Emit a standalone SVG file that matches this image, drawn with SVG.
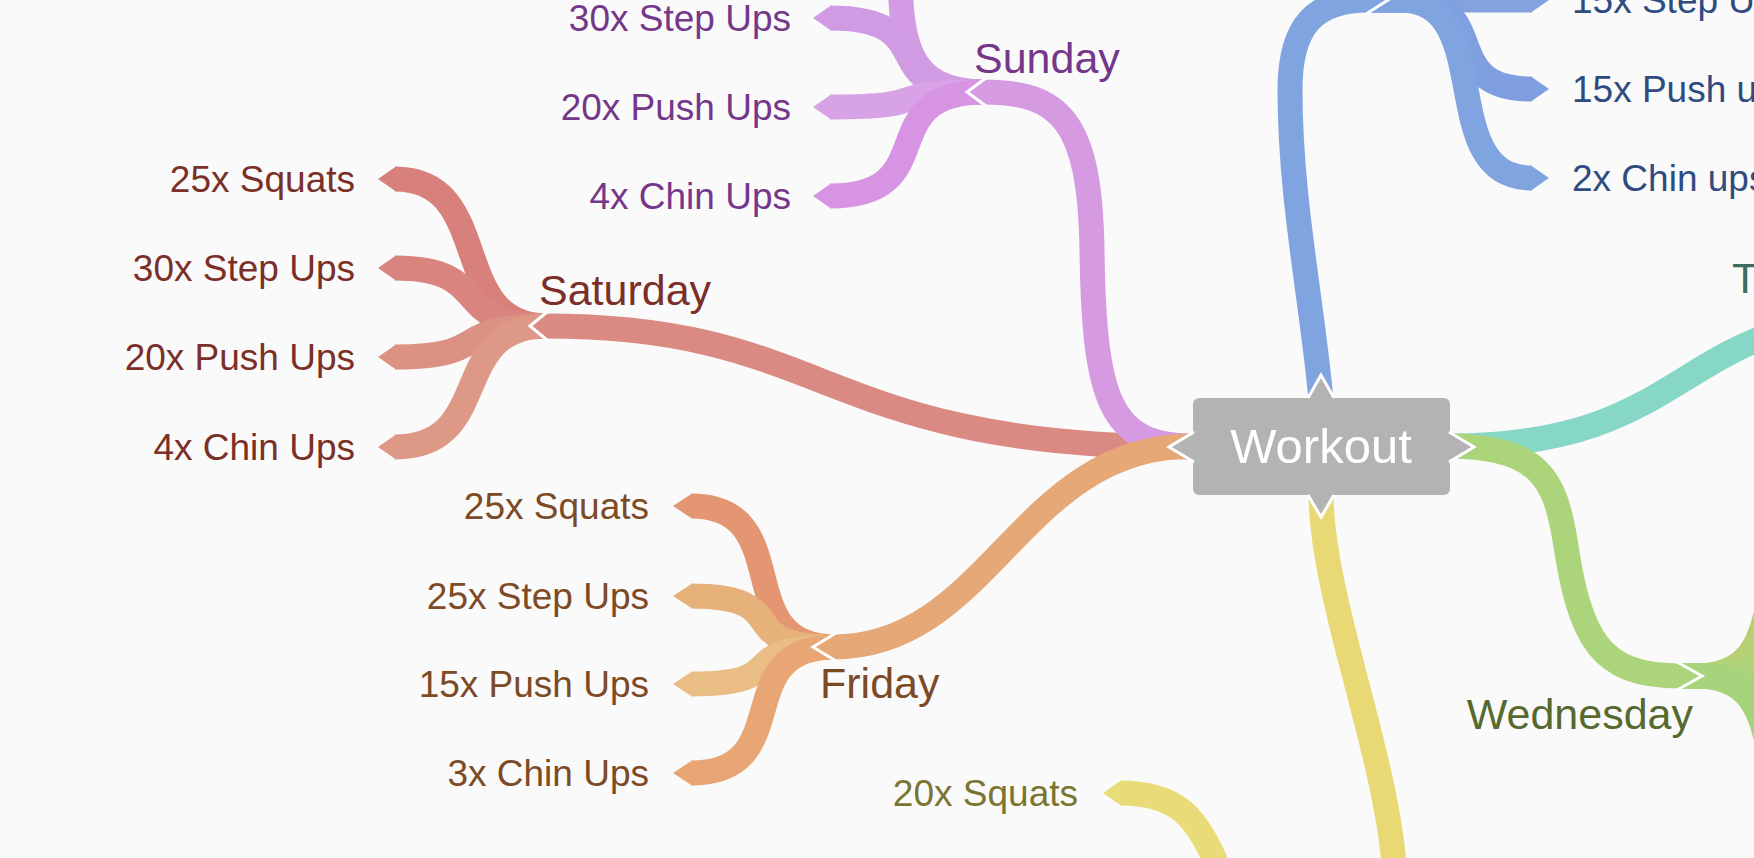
<svg xmlns="http://www.w3.org/2000/svg" width="1754" height="858" viewBox="0 0 1754 858">
<style>
.r{fill:none;stroke-width:25;stroke-linecap:butt}
.w{fill:none;stroke:#ffffff;stroke-width:3;stroke-linejoin:miter}
text{font-family:"Liberation Sans",Arial,Helvetica,sans-serif}
.leaf{font-size:37px}
.day{font-size:43px}
.sat{fill:#7a3028}.sun{fill:#74378a}.fri{fill:#7c4a25}.mon{fill:#2f4b80}.wed{fill:#56692f}.tue{fill:#3a6e5f}.thu{fill:#7a7530}
</style>
<rect x="0" y="0" width="1754" height="858" fill="#fafafa"/>
<g id="connectors">
  <!-- Saturday -->
  <path class="r" stroke="#da8a83" d="M545,326 C835,326 815,447 1192,447"/>
  <!-- Sunday -->
  <path class="r" stroke="#d69ae3" d="M983,92 C1060,92 1090,120 1092,250 C1094,400 1110,446 1192,446"/>
  <!-- Friday -->
  <path class="r" stroke="#e6a877" d="M833,647 C990,647 1020,446 1192,446"/>
  <!-- Monday (top, blue) -->
  <path class="r" stroke="#80a4e0" d="M1321,400 C1312,300 1290,200 1290,90 C1290,25 1315,0 1369,0"/>
  <!-- Tuesday -->
  <path class="r" stroke="#86d7c5" d="M1448,446 C1700,446 1670,314 1906,314"/>
  <!-- Wednesday -->
  <path class="r" stroke="#abd47b" d="M1448,446 C1540,446 1555,480 1565,540 C1580,640 1600,676 1680,676"/>
  <!-- Thursday (bottom, yellow) -->
  <path class="r" stroke="#e9d974" d="M1321,493 C1321,600 1390,760 1395,880"/>
  <path class="r" stroke="#e9dc78" d="M1120,793 C1175,793 1195,815 1215,860 L1225,885"/>
  <polygon fill="#e9dc78" points="1121,780.5 1103,793 1121,805.5"/>

  <!-- Saturday children -->
  <path class="r" stroke="#d8807b" d="M395,179 C496,179 446,326 547,326"/>
  <path class="r" stroke="#d9847e" d="M395,268 C496,268 446,326 547,326"/>
  <path class="r" stroke="#dc9282" d="M395,357 C496,357 446,326 547,326"/>
  <path class="r" stroke="#de9886" d="M395,447 C496,447 446,326 547,326"/>
  <polygon fill="#d8807b" points="396,166.5 378,179 396,191.5"/>
  <polygon fill="#d9847e" points="396,255.5 378,268 396,280.5"/>
  <polygon fill="#dc9282" points="396,344.5 378,357 396,369.5"/>
  <polygon fill="#de9886" points="396,434.5 378,447 396,459.5"/>
  <polygon fill="#da8a83" points="547,313.5 530,326 547,338.5"/>
  <polyline class="w" points="547,312 530,326 547,340"/>

  <!-- Sunday children -->
  <path class="r" stroke="#d39be3" d="M900,-40 C900,40 905,92 985,92"/>
  <path class="r" stroke="#d09be2" d="M830,18 C946,18 869,92 985,92"/>
  <path class="r" stroke="#d8a3e6" d="M830,107 C946,107 869,92 985,92"/>
  <path class="r" stroke="#d694e2" d="M830,196 C946,196 869,92 985,92"/>
  <polygon fill="#d09be2" points="831,5.5 813,18 831,30.5"/>
  <polygon fill="#d8a3e6" points="831,94.5 813,107 831,119.5"/>
  <polygon fill="#d694e2" points="831,183.5 813,196 831,208.5"/>
  <polygon fill="#d69ae3" points="986,79.5 967,92 986,104.5"/>
  <polyline class="w" points="986,78 967,92 986,106"/>

  <!-- Friday children -->
  <path class="r" stroke="#e49672" d="M691,506 C799,506 727,647 835,647"/>
  <path class="r" stroke="#e6b279" d="M691,596 C799,596 727,647 835,647"/>
  <path class="r" stroke="#e9bd84" d="M691,684 C799,684 727,647 835,647"/>
  <path class="r" stroke="#e7a674" d="M691,773 C799,773 727,647 835,647"/>
  <polygon fill="#e49672" points="692,493.5 673,506 692,518.5"/>
  <polygon fill="#e6b279" points="692,583.5 673,596 692,608.5"/>
  <polygon fill="#e9bd84" points="692,671.5 673,684 692,696.5"/>
  <polygon fill="#e7a674" points="692,760.5 673,773 692,785.5"/>
  <polygon fill="#e6a877" points="836,634.5 813,647 836,659.5"/>
  <polyline class="w" points="836,633 813,647 836,661"/>

  <!-- Monday children -->
  <path class="r" stroke="#84a2e0" d="M1367,0 L1532,0"/>
  <path class="r" stroke="#809fe0" d="M1367,0 L1400,0 C1499,0 1433,89 1532,89"/>
  <path class="r" stroke="#7fa4e0" d="M1367,0 L1400,0 C1499,0 1433,178 1532,178"/>
  <polygon fill="#84a2e0" points="1531,-12.5 1549,0 1531,12.5"/>
  <polygon fill="#809fe0" points="1531,76.5 1549,89 1531,101.5"/>
  <polygon fill="#7fa4e0" points="1531,165.5 1549,178 1531,190.5"/>
  <polygon fill="#80a4e0" points="1367,-12.5 1388,0 1367,12.5"/>
  <polyline class="w" points="1366,-14 1388,0 1366,14"/>

  <!-- Wednesday children -->
  <path class="r" stroke="#b6d073" d="M1678,676 L1695,676 C1804,676 1731,543 1840,543"/>
  <path class="r" stroke="#aed378" d="M1678,676 L1695,676 C1804,676 1731,632 1840,632"/>
  <path class="r" stroke="#a9d47b" d="M1678,676 L1695,676 C1804,676 1731,720 1840,720"/>
  <path class="r" stroke="#a6d47d" d="M1678,676 L1695,676 C1804,676 1731,809 1840,809"/>
  <polygon fill="#abd47b" points="1678,663.5 1702,676 1678,688.5"/>
  <polyline class="w" points="1677,662 1702,676 1677,690"/>
</g>

<g id="node-workout">
  <rect x="1193" y="398" width="257" height="97" rx="6" fill="#b3b3b3"/>
  <polygon fill="#b3b3b3" points="1195,433 1169,447 1195,461"/>
  <polygon fill="#b3b3b3" points="1448,433 1474,447 1448,461"/>
  <polygon fill="#b3b3b3" points="1308,400 1321,375 1334,400"/>
  <polygon fill="#b3b3b3" points="1308,493 1321,517 1334,493"/>
  <polyline class="w" points="1194,432 1169,447 1194,462"/>
  <polyline class="w" points="1449,432 1474,447 1449,462"/>
  <polyline class="w" points="1308,398 1321,375 1334,398"/>
  <polyline class="w" points="1308,495 1321,517 1334,495"/>
  <text x="1321" y="463" font-size="49" fill="#ffffff" text-anchor="middle">Workout</text>
</g>

<g id="node-saturday"><text class="day sat" x="539" y="305">Saturday</text></g>
<g id="node-sat-1"><text class="leaf sat" x="355" y="192" text-anchor="end">25x Squats</text></g>
<g id="node-sat-2"><text class="leaf sat" x="355" y="281" text-anchor="end">30x Step Ups</text></g>
<g id="node-sat-3"><text class="leaf sat" x="355" y="370" text-anchor="end">20x Push Ups</text></g>
<g id="node-sat-4"><text class="leaf sat" x="355" y="460" text-anchor="end">4x Chin Ups</text></g>

<g id="node-sunday"><text class="day sun" x="974" y="73">Sunday</text></g>
<g id="node-sun-1"><text class="leaf sun" x="791" y="31" text-anchor="end">30x Step Ups</text></g>
<g id="node-sun-2"><text class="leaf sun" x="791" y="120" text-anchor="end">20x Push Ups</text></g>
<g id="node-sun-3"><text class="leaf sun" x="791" y="209" text-anchor="end">4x Chin Ups</text></g>

<g id="node-friday"><text class="day fri" x="820" y="698">Friday</text></g>
<g id="node-fri-1"><text class="leaf fri" x="649" y="519" text-anchor="end">25x Squats</text></g>
<g id="node-fri-2"><text class="leaf fri" x="649" y="609" text-anchor="end">25x Step Ups</text></g>
<g id="node-fri-3"><text class="leaf fri" x="649" y="697" text-anchor="end">15x Push Ups</text></g>
<g id="node-fri-4"><text class="leaf fri" x="649" y="786" text-anchor="end">3x Chin Ups</text></g>

<g id="node-mon-1"><text class="leaf mon" x="1572" y="13">15x Step Ups</text></g>
<g id="node-mon-2"><text class="leaf mon" x="1572" y="102">15x Push ups</text></g>
<g id="node-mon-3"><text class="leaf mon" x="1572" y="191">2x Chin ups</text></g>

<g id="node-tuesday"><text class="day tue" x="1732" y="293">Tuesday</text></g>
<g id="node-wednesday"><text class="day wed" x="1693" y="729" text-anchor="end">Wednesday</text></g>
<g id="node-thu-1"><text class="leaf thu" x="1078" y="806" text-anchor="end">20x Squats</text></g>
</svg>
